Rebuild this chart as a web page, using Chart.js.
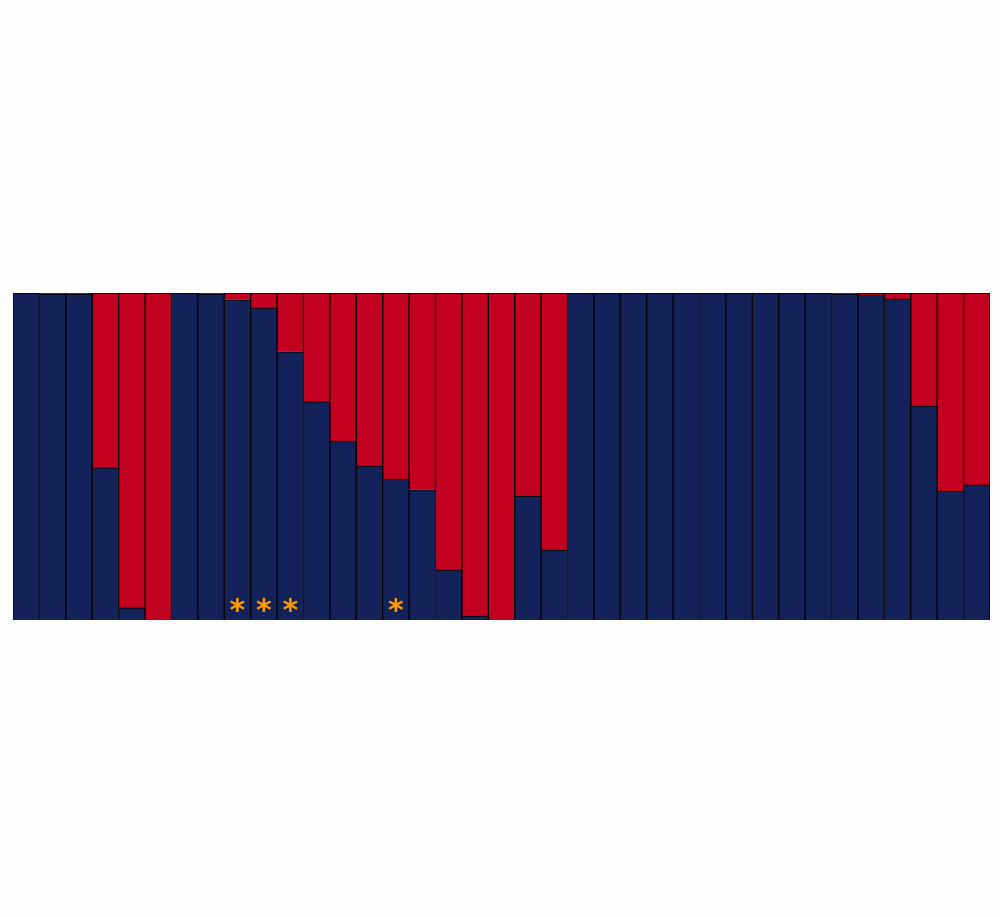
<!DOCTYPE html>
<html>
<head>
<meta charset="utf-8">
<script src="https://cdn.jsdelivr.net/npm/chart.js@4"></script>
<style>
  html, body { margin: 0; padding: 0; background: #fdfdfd; }
  #wrap { width: 1000px; height: 917px; }
</style>
</head>
<body>
<div id="wrap"><canvas id="chart" width="1000" height="917"></canvas></div>
<script>
// Categories (37 samples)
const labels = Array.from({ length: 37 }, (_, i) => 'S' + (i + 1));

// Share of the blue group per sample
const blueShare = [
    1.000, 0.997, 0.997, 0.465, 0.037, 0.000, 1.000, 0.997, 0.979, 0.954,
    0.820, 0.667, 0.547, 0.471, 0.431, 0.398, 0.153, 0.012, 0.000, 0.379,
    0.214, 1.000, 1.000, 1.000, 1.000, 1.000, 1.000, 1.000, 1.000, 1.000,
    1.000, 0.997, 0.994, 0.982, 0.654, 0.394, 0.413
];

// Share of the red group (rest of each bar)
const redShare = [
    0.000, 0.003, 0.003, 0.535, 0.963, 1.000, 0.000, 0.003, 0.021, 0.046,
    0.180, 0.333, 0.453, 0.529, 0.569, 0.602, 0.847, 0.988, 1.000, 0.621,
    0.786, 0.000, 0.000, 0.000, 0.000, 0.000, 0.000, 0.000, 0.000, 0.000,
    0.000, 0.003, 0.006, 0.018, 0.346, 0.606, 0.587
];

// Samples flagged with an asterisk
const flagged = ['S9', 'S10', 'S11', 'S15'];

// Asterisk markers
const starPlugin = {
    id: 'stars',
    afterDatasetsDraw(chart) {
        const ctx = chart.ctx;
        const x = chart.scales.x;
        const y = chart.scales.y;
        ctx.save();
        ctx.fillStyle = '#ff9a00';
        ctx.font = 'bold 30px "DejaVu Sans"';
        ctx.textAlign = 'center';
        ctx.textBaseline = 'middle';
        flagged.forEach(name => {
            const px = x.getPixelForValue(labels.indexOf(name));
            ctx.fillText('*', px, y.getPixelForValue(0.03) + 2);
        });
        ctx.restore();
    }
};

new Chart(document.getElementById('chart').getContext('2d'), {
    type: 'bar',
    data: {
        labels: labels,
        datasets: [{
            data: blueShare,
            backgroundColor: '#13235a',
            borderColor: '#000000',
            borderWidth: 1
        }, {
            data: redShare,
            backgroundColor: '#c20020',
            borderColor: '#000000',
            borderWidth: 1
        }]
    },
    options: {
        responsive: false,
        animation: false,
        layout: {
            padding: { left: 13, right: 10, top: 293, bottom: 297 }
        },
        datasets: {
            bar: {
                categoryPercentage: 1.0,
                barPercentage: 1.0
            }
        },
        plugins: {
            legend: { display: false },
            tooltip: { enabled: false }
        },
        scales: {
            x: {
                stacked: true,
                display: false
            },
            y: {
                stacked: true,
                display: false,
                min: 0,
                max: 1
            }
        }
    },
    plugins: [starPlugin]
});
</script>
</body>
</html>
